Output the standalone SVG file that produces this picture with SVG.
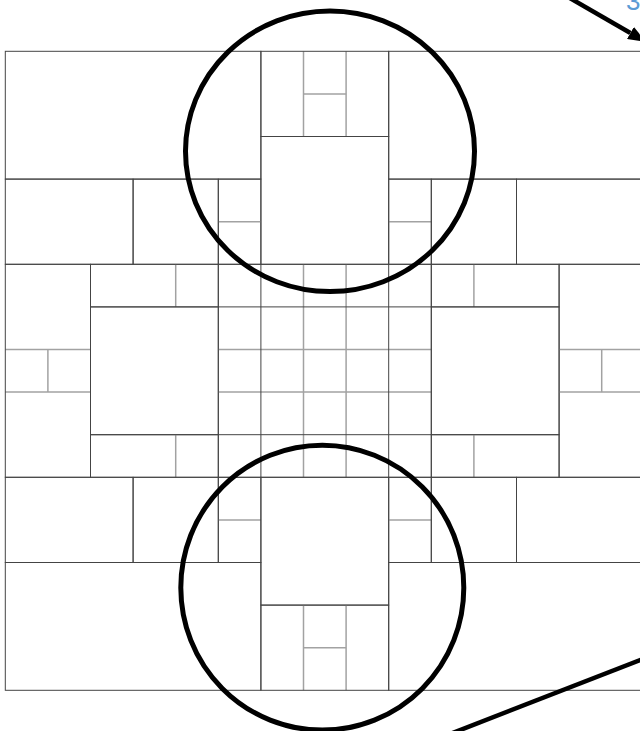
<svg xmlns="http://www.w3.org/2000/svg" width="640" height="731" viewBox="0 0 640 731">
<style>
.blk{fill:none;stroke:#444;stroke-width:1}
.sub{fill:none;stroke:#a2a2a2;stroke-width:1.5}
.ring{fill:none;stroke:#000;stroke-width:5}
.conn{fill:none;stroke:#000;stroke-width:4.5}
.lbl{font-family:"Liberation Sans",Arial,sans-serif;font-size:26px;fill:#5b9bd5}
</style>
<defs>
<marker id="ah" markerUnits="userSpaceOnUse" viewBox="0 0 18 14" refX="0" refY="7" markerWidth="18" markerHeight="14" orient="auto">
<path d="M0,0 L18,7 L0,14 z" fill="#000"/>
</marker>
</defs>
<rect width="640" height="731" fill="#fff"/>
<g id="grid">
<g id="n-top-left"><rect class="blk" x="5.3" y="51.3" width="255.6" height="127.8"/></g>
<g id="n-top-mid">
<line class="sub" x1="303.5" y1="51.3" x2="303.5" y2="136.5"/>
<line class="sub" x1="346.1" y1="51.3" x2="346.1" y2="136.5"/>
<line class="sub" x1="303.5" y1="93.9" x2="346.1" y2="93.9"/>
<rect class="blk" x="260.9" y="51.3" width="127.8" height="85.2"/>
</g>
<g id="n-top-right"><rect class="blk" x="388.7" y="51.3" width="255.6" height="127.8"/></g>
<g id="n-top-center"><rect class="blk" x="260.9" y="136.5" width="127.8" height="127.8"/></g>
<g id="n-r3-a"><rect class="blk" x="5.3" y="179.1" width="127.8" height="85.2"/></g>
<g id="n-r3-b"><rect class="blk" x="133.1" y="179.1" width="85.2" height="85.2"/></g>
<g id="n-r3-c">
<line class="sub" x1="218.3" y1="221.7" x2="260.9" y2="221.7"/>
<rect class="blk" x="218.3" y="179.1" width="42.6" height="85.2"/>
</g>
<g id="n-r3-d">
<line class="sub" x1="388.7" y1="221.7" x2="431.3" y2="221.7"/>
<rect class="blk" x="388.7" y="179.1" width="42.6" height="85.2"/>
</g>
<g id="n-r3-e"><rect class="blk" x="431.3" y="179.1" width="85.2" height="85.2"/></g>
<g id="n-r3-f"><rect class="blk" x="516.5" y="179.1" width="127.8" height="85.2"/></g>
<g id="n-mid-left">
<line class="sub" x1="5.3" y1="349.5" x2="90.5" y2="349.5"/>
<line class="sub" x1="5.3" y1="392.1" x2="90.5" y2="392.1"/>
<line class="sub" x1="47.9" y1="349.5" x2="47.9" y2="392.1"/>
<rect class="blk" x="5.3" y="264.3" width="85.2" height="213"/>
</g>
<g id="n-left-top-strip">
<line class="sub" x1="175.7" y1="264.3" x2="175.7" y2="306.9"/>
<rect class="blk" x="90.5" y="264.3" width="127.8" height="42.6"/>
</g>
<g id="n-left-square"><rect class="blk" x="90.5" y="306.9" width="127.8" height="127.8"/></g>
<g id="n-left-bottom-strip">
<line class="sub" x1="175.7" y1="434.7" x2="175.7" y2="477.3"/>
<rect class="blk" x="90.5" y="434.7" width="127.8" height="42.6"/>
</g>
<g id="n-center">
<line class="sub" x1="303.5" y1="264.3" x2="303.5" y2="477.3"/>
<line class="sub" x1="346.1" y1="264.3" x2="346.1" y2="477.3"/>
<line class="sub" x1="218.3" y1="349.5" x2="431.3" y2="349.5"/>
<line class="sub" x1="218.3" y1="392.1" x2="431.3" y2="392.1"/>
<line class="blk" x1="260.9" y1="264.3" x2="260.9" y2="477.3"/>
<line class="blk" x1="388.7" y1="264.3" x2="388.7" y2="477.3"/>
<line class="blk" x1="218.3" y1="306.9" x2="431.3" y2="306.9"/>
<line class="blk" x1="218.3" y1="434.7" x2="431.3" y2="434.7"/>
<rect class="blk" x="218.3" y="264.3" width="213" height="213"/>
</g>
<g id="n-right-top-strip">
<line class="sub" x1="473.9" y1="264.3" x2="473.9" y2="306.9"/>
<rect class="blk" x="431.3" y="264.3" width="127.8" height="42.6"/>
</g>
<g id="n-right-square"><rect class="blk" x="431.3" y="306.9" width="127.8" height="127.8"/></g>
<g id="n-right-bottom-strip">
<line class="sub" x1="473.9" y1="434.7" x2="473.9" y2="477.3"/>
<rect class="blk" x="431.3" y="434.7" width="127.8" height="42.6"/>
</g>
<g id="n-mid-right">
<line class="sub" x1="559.1" y1="349.5" x2="644.3" y2="349.5"/>
<line class="sub" x1="559.1" y1="392.1" x2="644.3" y2="392.1"/>
<line class="sub" x1="601.7" y1="349.5" x2="601.7" y2="392.1"/>
<rect class="blk" x="559.1" y="264.3" width="85.2" height="213"/>
</g>
<g id="n-r10-a"><rect class="blk" x="5.3" y="477.3" width="127.8" height="85.2"/></g>
<g id="n-r10-b"><rect class="blk" x="133.1" y="477.3" width="85.2" height="85.2"/></g>
<g id="n-r10-c">
<line class="sub" x1="218.3" y1="519.9" x2="260.9" y2="519.9"/>
<rect class="blk" x="218.3" y="477.3" width="42.6" height="85.2"/>
</g>
<g id="n-bottom-center"><rect class="blk" x="260.9" y="477.3" width="127.8" height="127.8"/></g>
<g id="n-r10-d">
<line class="sub" x1="388.7" y1="519.9" x2="431.3" y2="519.9"/>
<rect class="blk" x="388.7" y="477.3" width="42.6" height="85.2"/>
</g>
<g id="n-r10-e"><rect class="blk" x="431.3" y="477.3" width="85.2" height="85.2"/></g>
<g id="n-r10-f"><rect class="blk" x="516.5" y="477.3" width="127.8" height="85.2"/></g>
<g id="n-bottom-left"><rect class="blk" x="5.3" y="562.5" width="255.6" height="127.8"/></g>
<g id="n-bottom-mid">
<line class="sub" x1="303.5" y1="605.1" x2="303.5" y2="690.3"/>
<line class="sub" x1="346.1" y1="605.1" x2="346.1" y2="690.3"/>
<line class="sub" x1="303.5" y1="647.7" x2="346.1" y2="647.7"/>
<rect class="blk" x="260.9" y="605.1" width="127.8" height="85.2"/>
</g>
<g id="n-bottom-right"><rect class="blk" x="388.7" y="562.5" width="255.6" height="127.8"/></g>
</g>
<g id="highlights">
<ellipse id="ring-top" class="ring" cx="330" cy="151.3" rx="144.5" ry="140.3"/>
<ellipse id="ring-bottom" class="ring" cx="322.3" cy="587.7" rx="141.5" ry="142.4"/>
</g>
<g id="connectors">
<line class="conn" x1="568" y1="-3" x2="630.4" y2="33" marker-end="url(#ah)"/>
<line class="conn" x1="450" y1="734" x2="648" y2="657"/>
</g>
<text class="lbl" x="626" y="10">3</text>
</svg>
